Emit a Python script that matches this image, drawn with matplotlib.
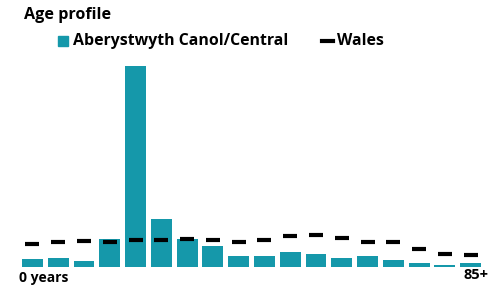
import matplotlib
matplotlib.use("Agg")
import matplotlib.pyplot as plt
import numpy as np

plt.rcParams['font.family'] = ['Open Sans', 'DejaVu Sans']

# Age groups 0-4 ... 85+ (percent of population)
age_groups = ['0-4', '5-9', '10-14', '15-19', '20-24', '25-29', '30-34', '35-39',
              '40-44', '45-49', '50-54', '55-59', '60-64', '65-69', '70-74',
              '75-79', '80-84', '85+']
area_pct = [1.95, 2.2, 1.5, 6.8, 49.0, 11.8, 6.9, 5.1, 2.7, 2.7, 3.7, 3.1,
            2.2, 2.6, 1.8, 1.0, 0.4, 1.0]
wales_pct = [5.5, 6.2, 6.4, 6.2, 6.5, 6.5, 6.9, 6.5, 6.1, 6.5, 7.6, 7.9,
             7.0, 6.2, 6.2, 4.5, 3.2, 2.9]

area_name = 'Aberystwyth Canol/Central'
teal = '#1598aa'

fig = plt.figure(figsize=(5.03, 2.88), dpi=100)
ax = fig.add_axes([19.6 / 503, 21 / 288, 464 / 503, 205 / 288])

x = np.arange(len(age_groups))
ax.bar(x, area_pct, width=0.81, color=teal, linewidth=0)
ax.scatter(x, wales_pct, marker='_', s=102, linewidths=3, color='black', zorder=3)

ax.set_xlim(-0.5, len(age_groups) - 0.5)
ax.set_ylim(0, 50)
ax.axis('off')

# title and legend
fig.text(24 / 503, 1 - 15 / 288, 'Age profile', fontsize=11.6, fontweight='bold',
         va='center', ha='left')
fig.patches.append(plt.Rectangle((58 / 503, 1 - 46 / 288), 10 / 503, 10 / 288,
                                 transform=fig.transFigure, color=teal))
fig.text(73 / 503, 1 - 41 / 288, area_name, fontsize=11.4, fontweight='bold',
         va='center', ha='left')
fig.lines.append(plt.Line2D([322 / 503, 333 / 503], [1 - 41 / 288, 1 - 41 / 288],
                            transform=fig.transFigure, color='black', linewidth=3))
fig.text(337 / 503, 1 - 41 / 288, 'Wales', fontsize=11.4, fontweight='bold',
         va='center', ha='left')

# end labels
fig.text(19 / 503, 1 - 278 / 288, '0 years', fontsize=10, fontweight='bold',
         va='center', ha='left')
fig.text(488 / 503, 1 - 275 / 288, '85+', fontsize=10.5, fontweight='bold',
         va='center', ha='right')

fig.savefig('out.png', dpi=100)
